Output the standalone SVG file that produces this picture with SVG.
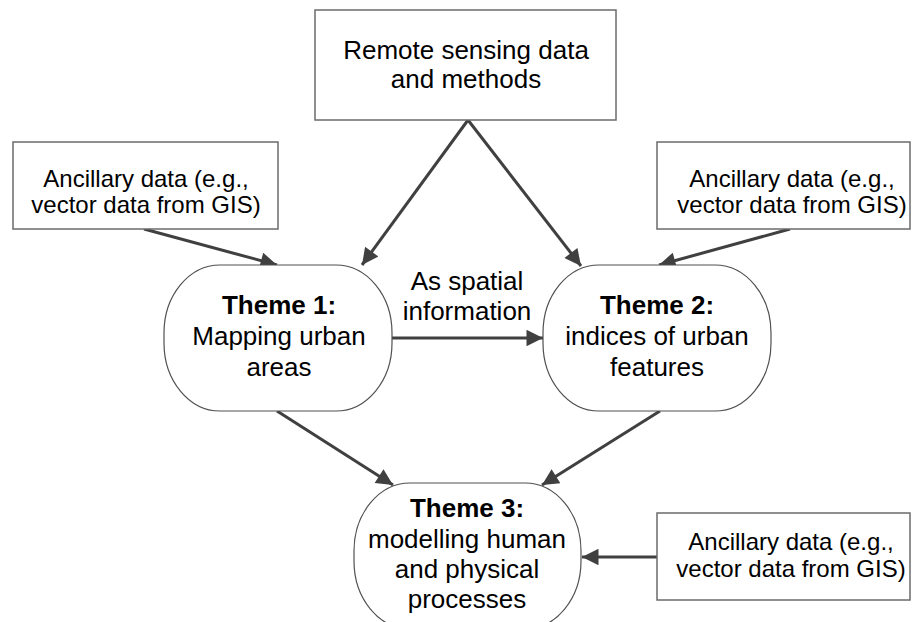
<svg xmlns="http://www.w3.org/2000/svg" width="912" height="622" viewBox="0 0 912 622">
<style>
  .box{fill:#fff;stroke:#6b6b6b;stroke-width:1.5}
  .theme{fill:#fff;stroke:#505050;stroke-width:1.2}
  .t{font-family:"Liberation Sans",Arial,sans-serif;fill:#000;text-anchor:middle}
  .anc{font-size:24px}
  .big{font-size:26px}
  .b{font-weight:bold}
  .edge{stroke:#404040;stroke-width:3;fill:none;marker-end:url(#ah)}
</style>
<defs>
  <marker id="ah" viewBox="0 0 10 10" refX="10" refY="5" markerWidth="6.5" markerHeight="5.5" markerUnits="strokeWidth" orient="auto">
    <path d="M0,0 L10,5 L0,10 Z" fill="#404040"/>
  </marker>
</defs>
<rect width="912" height="622" fill="#fff"/>
<g id="connectors">
  <line class="edge" x1="468" y1="120" x2="362" y2="265"/>
  <line class="edge" x1="468" y1="120" x2="581" y2="266"/>
  <line class="edge" x1="144" y1="229" x2="277" y2="265"/>
  <line class="edge" x1="790" y1="229" x2="659" y2="265"/>
  <line class="edge" x1="392" y1="338" x2="543" y2="338"/>
  <line class="edge" x1="277" y1="411" x2="393" y2="485"/>
  <line class="edge" x1="660" y1="411" x2="542" y2="485"/>
  <line class="edge" x1="657" y1="557" x2="582" y2="557"/>
  <text class="t big" x="467" y="290">As spatial</text>
  <text class="t big" x="467" y="320">information</text>
</g>
<g id="remote">
  <rect class="box" x="315" y="10" width="301" height="110"/>
  <text class="t big" x="466" y="59">Remote sensing data</text>
  <text class="t big" x="466" y="88">and methods</text>
</g>
<g id="anc1">
  <rect class="box" x="13" y="142" width="265" height="87"/>
  <text class="t anc" x="146" y="187">Ancillary data (e.g.,</text>
  <text class="t anc" x="146" y="213">vector data from GIS)</text>
</g>
<g id="anc2">
  <rect class="box" x="657" y="142" width="253" height="87"/>
  <text class="t anc" x="792" y="187">Ancillary data (e.g.,</text>
  <text class="t anc" x="792" y="213">vector data from GIS)</text>
</g>
<g id="anc3">
  <rect class="box" x="657" y="513" width="253" height="87"/>
  <text class="t anc" x="791" y="550">Ancillary data (e.g.,</text>
  <text class="t anc" x="791" y="577">vector data from GIS)</text>
</g>
<g id="theme1">
  <rect class="theme" x="164" y="265" width="228" height="146" rx="56" ry="68"/>
  <text class="t big b" x="279" y="314">Theme 1:</text>
  <text class="t big" x="279" y="345">Mapping urban</text>
  <text class="t big" x="279" y="376">areas</text>
</g>
<g id="theme2">
  <rect class="theme" x="543" y="265" width="228" height="146" rx="56" ry="68"/>
  <text class="t big b" x="657" y="314">Theme 2:</text>
  <text class="t big" x="657" y="345">indices of urban</text>
  <text class="t big" x="657" y="376">features</text>
</g>
<g id="theme3">
  <rect class="theme" x="354" y="483" width="227" height="146" rx="56" ry="68"/>
  <text class="t big b" x="467" y="517">Theme 3:</text>
  <text class="t big" x="467" y="548">modelling human</text>
  <text class="t big" x="467" y="578">and physical</text>
  <text class="t big" x="467" y="608">processes</text>
</g>
</svg>
